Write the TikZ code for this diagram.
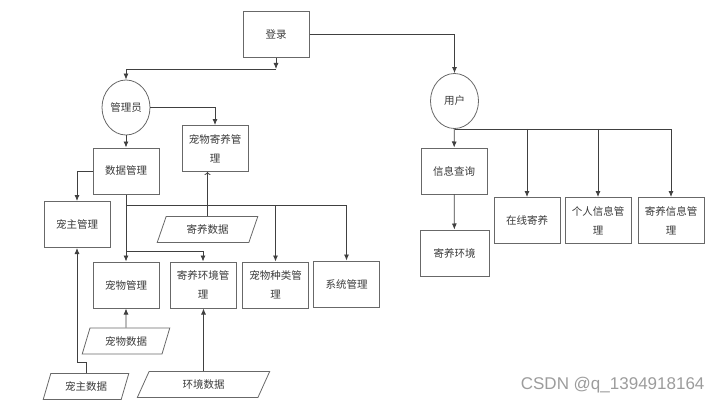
\documentclass[tikz,border=0pt]{standalone}
\usepackage{fontspec}
\usetikzlibrary{shapes.geometric,arrows.meta}
\setsansfont{Liberation Sans}
\newfontfamily\cjk{Noto Sans CJK SC}
\definecolor{boxgray}{HTML}{686868}
\definecolor{linegray}{HTML}{404040}
\definecolor{textgray}{HTML}{3A3A3A}
\definecolor{markgray}{HTML}{9C9C9C}
\begin{document}
\begin{tikzpicture}[x=1pt,y=-1pt,font=\cjk\fontsize{10.5}{19}\selectfont,text=textgray,
  box/.style={draw=boxgray,line width=1pt,minimum width=66pt,minimum height=46pt,inner sep=1pt,align=center},
  circ/.style={draw=boxgray,ellipse,line width=0.8pt,minimum width=48pt,minimum height=55pt,inner sep=0pt},
  data/.style={draw=boxgray,trapezium,trapezium left angle=68,trapezium right angle=112,trapezium stretches=true,line width=0.8pt,minimum height=26pt,inner sep=1pt},
  arr/.style={draw=linegray,line width=0.8pt,-{Latex[length=6pt,width=5pt]}},
  openarr/.style={draw=linegray,line width=0.8pt,-{To[length=3pt,width=6pt]}}]
  \useasboundingbox (0,0) rectangle (723,404);

  % login and the two roles
  \node[box] (login) at (276,34.5) {登录};
  \node[circ] (admin) at (126,107.5) {管理员};
  \node[circ] (user) at (454.5,101) {用户};
  \coordinate (j1) at (276,69);
  \draw[arr] (login.south) -- (j1);
  \draw[arr] (j1) -| (admin.north);
  \draw[arr] (login.east) -| (user.north);

  % admin side
  \node[box] (fostermgr) at (215,148.5) {宠物寄养管\\理};
  \node[box] (datamgr) at (126,171) {数据管理};
  \node[box] (ownermgr) at (77,224.5) {宠主管理};
  \node[box] (petmgr) at (126,285) {宠物管理};
  \node[box] (envmgr) at (203,285) {寄养环境管\\理};
  \node[box] (kindmgr) at (275.5,285) {宠物种类管\\理};
  \node[box] (sysmgr) at (346.5,284) {系统管理};
  \node[data,minimum width=101pt] (fosterdata) at (207.5,229.5) {寄养数据};
  \node[data,minimum width=88pt] (petdata) at (126,341) {宠物数据};
  \node[data,minimum width=86pt] (ownerdata) at (86,386.5) {宠主数据};
  \node[data,minimum width=133pt] (envdata) at (203.5,384.5) {环境数据};

  \draw[arr] (admin.east) -| (fostermgr.north);
  \draw[arr] (admin) -- (datamgr);
  \draw[arr] (datamgr.west) -| (ownermgr.north);
  \coordinate (j2) at (126,205);
  \coordinate (j3) at (126,251);
  \draw[arr] (datamgr) -- (petmgr);
  \draw[arr] (j2) -| (sysmgr.north);
  \draw[arr] (j2 -| kindmgr) -- (kindmgr.north);
  \draw[arr] (j3) -| (envmgr.north);
  \draw[openarr] (fosterdata.north) -- (fosterdata.north |- fostermgr.south);
  \draw[arr] (petdata) -- (petmgr);
  \draw[arr] (ownerdata.north) -- ++(0,-11) -| (ownermgr.south);
  \draw[arr] (envdata.north) -- (envdata.north |- envmgr.south);

  % user side
  \node[box] (query) at (454,171) {信息查询};
  \node[box,minimum width=69pt] (envview) at (454.5,253) {寄养环境};
  \node[box] (online) at (527,220.5) {在线寄养};
  \node[box] (selfinfo) at (598,220.5) {个人信息管\\理};
  \node[box] (fosterinfo) at (671,220.5) {寄养信息管\\理};

  \draw[arr] (user) -- (query);
  \draw[arr] (query) -- (envview);
  \draw[arr] (user.south) -| (fosterinfo.north);
  \draw[arr] (user.south -| online) -- (online.north);
  \draw[arr] (user.south -| selfinfo) -- (selfinfo.north);

  \node[font=\sffamily\fontsize{17}{20}\selectfont,text=markgray,anchor=east] (mark) at (708,385) {CSDN @q\_1394918164};
\end{tikzpicture}
\end{document}
